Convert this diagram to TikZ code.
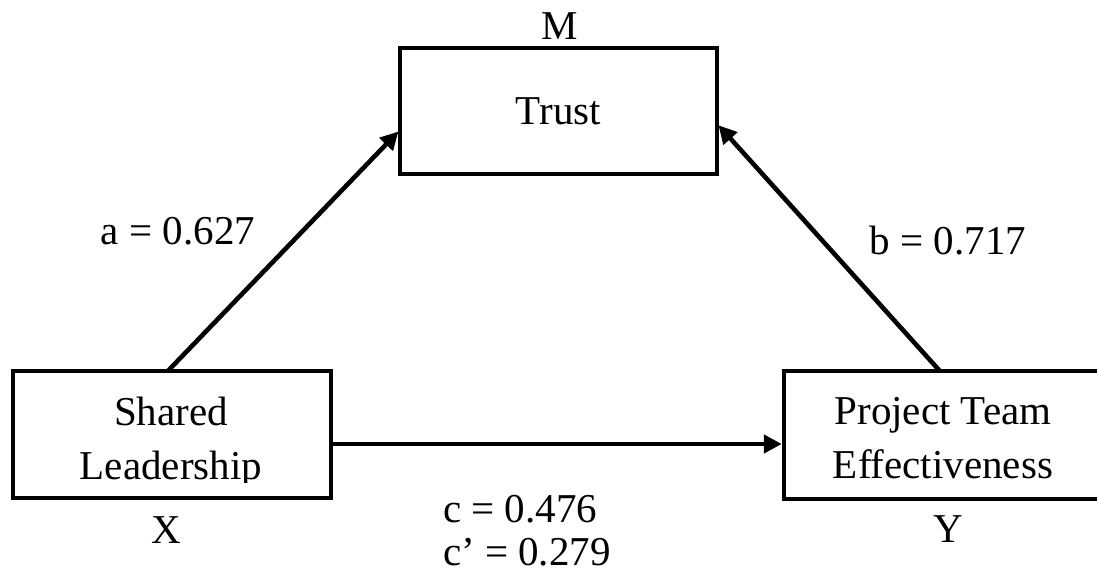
\documentclass[tikz,border=0pt]{standalone}
\usepackage{fontspec}
\setmainfont{Liberation Serif}
\usetikzlibrary{arrows.meta,calc}
\begin{document}
\begin{tikzpicture}[x=0.5pt,y=-0.5pt,
  every node/.style={inner sep=0pt,outer sep=0pt},
  varbox/.style={draw,line width=2.3pt,minimum width=159pt,minimum height=63.5pt},
  lbl/.style={font=\fontsize{20.5}{27}\selectfont,anchor=base},
  link/.style={line width=2.3pt,shorten >=1.1pt,-{Triangle[length=9pt,width=9pt]}}]
\useasboundingbox (0,0) rectangle (1097,572);

% variable boxes
\node[varbox,minimum width=158.5pt,minimum height=63pt] (trust) at (558.5,111) {};
\node[varbox] (xbox) at (172,434.5) {};
\node[varbox,minimum height=64pt] (ybox) at (943,435) {};

% box texts and role tags
\node[lbl] (trusttxt) at (558.5,125) {Trust};
\node[lbl] (mtag) at (560,40) {M};
\begin{scope}
  \clip (xbox.north west) rectangle (331,482);
  \node[lbl] (xtxt) at (171,425) {\begin{tabular}[t]{c}Shared\\Leadership\end{tabular}};
\end{scope}
\node[lbl] (ytxt) at (943,424) {\begin{tabular}[t]{c}Project Team\\Effectiveness\end{tabular}};
\node[lbl] (xtag) at (166,543) {X};
\node[lbl] (ytag) at (948,542) {Y};

% path coefficients
\node[lbl] (alabel) at (178,245) {a = 0.627};
\node[lbl] (blabel) at (948,255) {b = 0.717};
\node[lbl,anchor=base west,font=\fontsize{20.5}{21.5}\selectfont] (clabel) at (443,522)
  {\begin{tabular}[t]{@{}l@{}}c = 0.476\\c’ = 0.279\end{tabular}};

% paths
\draw[link] ($(xbox.north west)!0.487!(xbox.north east)$) -- ($(trust.north west)!0.65!(trust.south west)$);
\draw[link] ($(ybox.north west)!0.49!(ybox.north east)$) -- ($(trust.north east)!0.6!(trust.south east)$);
\draw[link] ($(xbox.east)+(0,9.5)$) -- ($(ybox.west)+(0,9)$);
\end{tikzpicture}
\end{document}
